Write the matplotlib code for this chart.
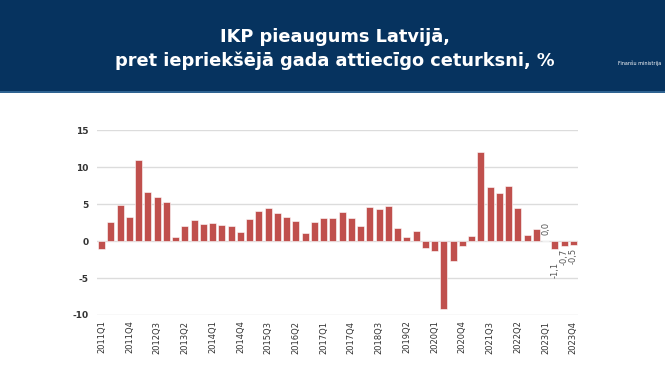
import matplotlib.pyplot as plt
import numpy as np

plt.rcParams['font.family'] = ['DejaVu Sans']

quarters = [f"{y}Q{q}" for y in range(2011, 2024) for q in range(1, 5)]
growth = [
    -1.1, 2.6, 4.9, 3.3,
    11.0, 6.6, 6.0, 5.3,
    0.6, 2.0, 2.8, 2.3,
    2.5, 2.1, 2.0, 1.2,
    3.0, 4.1, 4.5, 3.8,
    3.2, 2.7, 1.1, 2.6,
    3.1, 3.1, 3.9, 3.1,
    2.0, 4.6, 4.3, 4.7,
    1.8, 0.5, 1.3, -1.0,
    -1.3, -9.2, -2.7, -0.7,
    0.7, 12.0, 7.3, 6.5,
    7.5, 4.4, 0.8, 1.6,
    0.0, -1.1, -0.7, -0.5,
]
labelled = ["2023Q1", "2023Q2", "2023Q3", "2023Q4"]
yticks = [-10, -5, 0, 5, 10, 15]

fig = plt.figure(figsize=(6.65, 3.75), dpi=100)
fig.patch.set_facecolor("white")

# header band
fig.patches.append(plt.Rectangle((0, 0.755), 1, 0.245, transform=fig.transFigure,
                                 facecolor="#06335f", edgecolor="none", zorder=0))
fig.patches.append(plt.Rectangle((0, 0.752), 1, 0.006, transform=fig.transFigure,
                                 facecolor="#2f6391", edgecolor="none", zorder=0))
fig.text(0.503, 0.902, "IKP pieaugums Latvijā,", color="white", fontsize=12.8,
         fontweight="bold", ha="center", va="center")
fig.text(0.503, 0.838, "pret iepriekšējā gada attiecīgo ceturksni, %", color="white",
         fontsize=12.8, fontweight="bold", ha="center", va="center")
fig.text(0.962, 0.83, "Finanšu ministrija", color="white", fontsize=3.5,
         ha="center", va="center")

ax = fig.add_axes([0.146, 0.16, 0.723, 0.4933])
x = np.arange(len(growth))
ax.bar(x, growth, width=0.76, color="#c0504d", edgecolor="white", linewidth=0.4, zorder=3)

for i, (q, v) in enumerate(zip(quarters, growth)):
    if q in labelled:
        txt = f"{v:.1f}".replace(".", ",")
        if v >= 0:
            ax.text(i, v + 0.8, txt, rotation=90, ha="center", va="bottom",
                    fontsize=6, color="#555555")
        else:
            gap = 1.7 if v < -1 else 0.4
            ax.text(i, v - gap, txt, rotation=90, ha="center", va="top",
                    fontsize=6, color="#555555")

ax.set_xlim(-0.5, len(growth) - 0.5)
ax.set_ylim(-10, 15)
ax.set_yticks(yticks)
ax.set_yticklabels([str(t) for t in yticks], fontsize=6.5, fontweight="bold", color="#333333")
ax.set_xticks(x[::3])
ax.set_xticklabels(quarters[::3], rotation=90, fontsize=6, color="#333333")
ax.tick_params(length=0, pad=6)
ax.tick_params(axis="x", pad=4)
ax.grid(axis="y", color="#dcdcdc", linewidth=1, zorder=0)
for s in ax.spines.values():
    s.set_visible(False)

fig.savefig("out.png", dpi=100)
